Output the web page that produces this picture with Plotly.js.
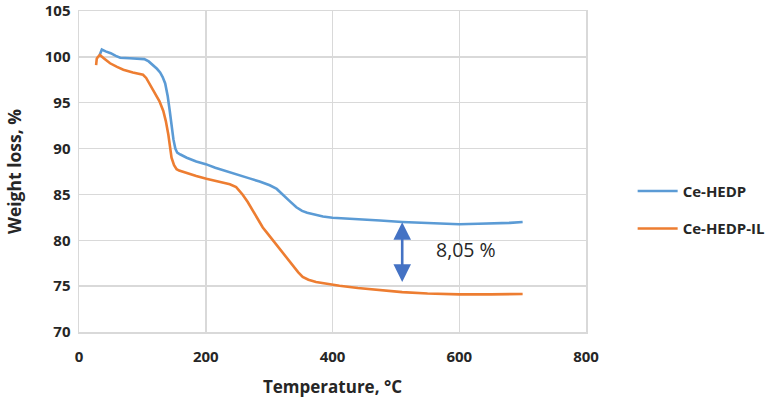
<!DOCTYPE html>
<html>
<head>
<meta charset="utf-8">
<script src="https://cdn.plot.ly/plotly-3.0.1.min.js"></script>
<style>html,body{margin:0;padding:0;background:#fff}#chart{width:774px;height:404px}</style>
</head>
<body>
<div id="chart"></div>
<script>
const tempBlue = [32, 34, 36, 42, 50, 58, 65, 80, 95, 103, 110, 117, 123, 128, 132, 136, 140, 143, 146, 149, 152, 155, 160, 170, 185, 200, 215, 230, 243, 255, 269, 285, 301, 312, 322, 332, 343, 352, 360, 372, 385, 400, 420, 450, 475, 510, 550, 580, 600, 630, 660, 680, 700];
const weightBlue = [100.1, 100.6, 100.8, 100.6, 100.4, 100.1, 99.9, 99.85, 99.8, 99.75, 99.5, 99.1, 98.7, 98.3, 97.8, 97.1, 95.7, 94.2, 92.4, 91.0, 90.0, 89.55, 89.35, 89.0, 88.6, 88.3, 87.9, 87.6, 87.35, 87.1, 86.75, 86.4, 86.0, 85.6, 85.0, 84.3, 83.6, 83.2, 83.0, 82.8, 82.6, 82.45, 82.35, 82.25, 82.15, 82.0, 81.9, 81.8, 81.75, 81.8, 81.85, 81.9, 82.0];
const tempOrange = [27, 28, 30, 33, 40, 49, 60, 70, 85, 101, 106, 110, 115, 120, 127, 133, 137, 141, 146, 150, 154, 158, 170, 185, 201, 220, 238, 248, 258, 266, 274, 282, 290, 298, 306, 314, 322, 330, 338, 346, 353, 362, 374, 390, 411, 440, 475, 510, 550, 600, 650, 700];
const weightOrange = [99.1, 99.8, 100.0, 100.2, 99.8, 99.3, 98.9, 98.6, 98.3, 98.05, 97.7, 97.2, 96.6, 96.0, 95.15, 94.1, 93.0, 91.5, 89.0, 88.2, 87.75, 87.6, 87.3, 87.0, 86.7, 86.4, 86.1, 85.8, 85.0, 84.2, 83.25, 82.3, 81.4, 80.7, 80.0, 79.3, 78.55, 77.8, 77.1, 76.5, 76.0, 75.7, 75.45, 75.25, 75.05, 74.8, 74.55, 74.35, 74.2, 74.1, 74.1, 74.15];
const seriesNames = ["Ce-HEDP", "Ce-HEDP-IL"];
const xTicks = [0, 200, 400, 600, 800];
const yTicks = [70, 75, 80, 85, 90, 95, 100, 105];
const arrowTemp = 510, arrowTop = 81.98, arrowBottom = 75.3;
const diffLabel = "8,05 %";
const diffLabelPos = [610, 79.0];

const FONT = "Open Sans, Liberation Sans, sans-serif";
const traces = [
  {x: tempBlue, y: weightBlue, name: seriesNames[0], mode: "lines", line: {color: "#5b9bd5", width: 2.6}, legendgroup: "a"},
  {x: tempOrange, y: weightOrange, name: seriesNames[1], mode: "lines", line: {color: "#ed7d31", width: 2.6}, legendgroup: "b"}
];
const layout = {
  width: 774, height: 404,
  margin: {l: 79, r: 188, t: 11, b: 72, autoexpand: false},
  paper_bgcolor: "#fff", plot_bgcolor: "#fff",
  font: {family: FONT, color: "#262626"},
  xaxis: {
    range: [0, 800], tickvals: xTicks, ticktext: xTicks.map(String),
    showgrid: true, gridcolor: "#d9d9d9", gridwidth: 1.5,
    showline: true, linecolor: "#d9d9d9", linewidth: 1.5, mirror: true,
    zeroline: false, ticks: "", ticklen: 0, ticklabelstandoff: 10,
    tickfont: {size: 15, family: FONT, weight: "bold", color: "#262626"},
    title: {text: "Temperature, °C", font: {size: 17, family: FONT, weight: "bold", color: "#262626"}, standoff: 16}
  },
  yaxis: {
    range: [70, 105], tickvals: yTicks, ticktext: yTicks.map(String),
    showgrid: true, gridcolor: "#d9d9d9", gridwidth: 1.5,
    showline: true, linecolor: "#d9d9d9", linewidth: 1.5, mirror: true,
    zeroline: false, ticks: "", ticklen: 0, ticklabelstandoff: 4,
    ticklabeloverflow: "allow",
    tickfont: {size: 15, family: FONT, weight: "bold", color: "#262626"},
    title: {text: "Weight loss, %", font: {size: 17.5, family: FONT, weight: "bold", color: "#262626"}, standoff: 18}
  },
  showlegend: true,
  legend: {
    x: 1.092, y: 0.49, xanchor: "left", yanchor: "top",
    font: {size: 15, family: FONT, weight: "bold", color: "#262626"},
    traceorder: "grouped", tracegroupgap: 15, itemwidth: 40,
    bgcolor: "rgba(0,0,0,0)"
  },
  annotations: [
    {x: arrowTemp, y: arrowTop, ax: arrowTemp, ay: arrowBottom, xref: "x", yref: "y", axref: "x", ayref: "y",
     text: "", showarrow: true, arrowhead: 2, startarrowhead: 2, arrowside: "end+start",
     arrowsize: 1.35, startarrowsize: 1.35, arrowwidth: 2.6, arrowcolor: "#4472c4", standoff: 0, startstandoff: 0},
    {x: diffLabelPos[0], y: diffLabelPos[1], xref: "x", yref: "y", text: diffLabel, showarrow: false,
     font: {size: 19.5, family: FONT, color: "#262626"}}
  ]
};
Plotly.newPlot("chart", traces, layout, {displayModeBar: false, staticPlot: true});
</script>
</body>
</html>
